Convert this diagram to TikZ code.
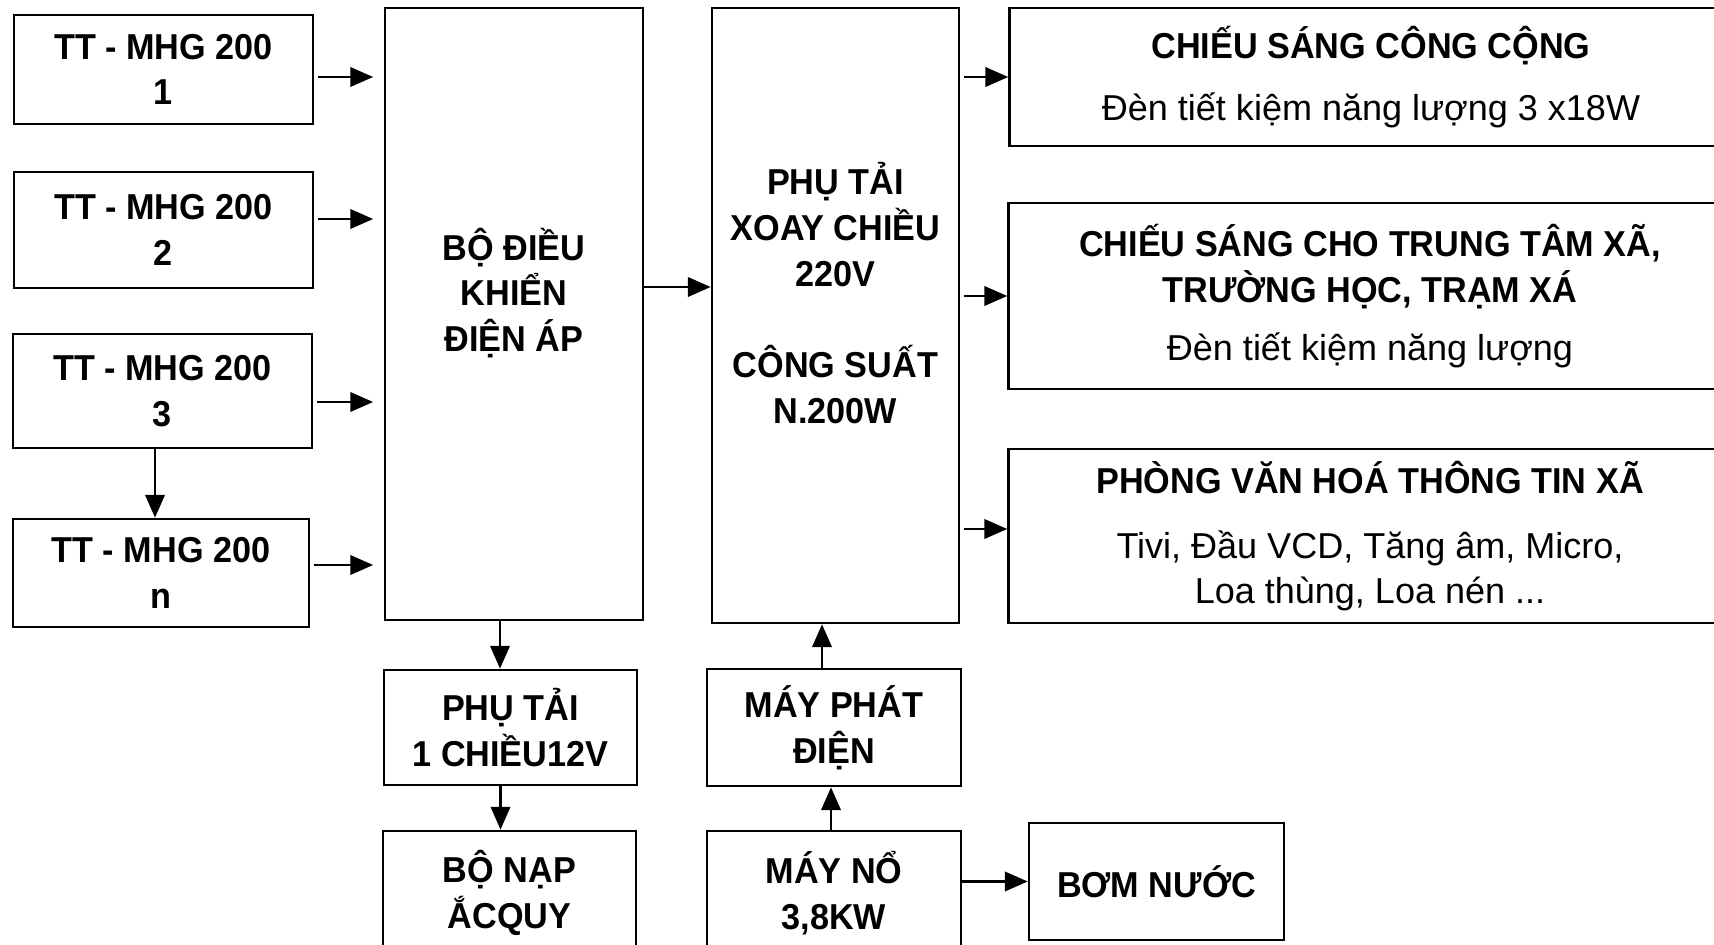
\documentclass[tikz,border=0pt]{standalone}
\usepackage{fontspec}
\setmainfont{Liberation Sans}[BoldFeatures={FakeStretch=0.95}]
\usetikzlibrary{arrows.meta, positioning}

\begin{document}
\begin{tikzpicture}[x=0.02cm, y=-0.02cm,
  blk/.style={draw=black, line width=1.5pt, align=center, inner sep=0pt,
              font=\fontsize{20.5}{26}\selectfont\bfseries},
  wide/.style={blk, minimum width=14.46cm},
  txt/.style={align=center, inner sep=0pt,
              font=\fontsize{20.5}{26}\selectfont\bfseries},
  arr/.style={-{Triangle[length=13pt, width=11pt]}, line width=1.5pt}
]
\useasboundingbox (0,0) rectangle (1714,945);
\clip (0,0) rectangle (1714,945);

% Sources
\node[blk, minimum width=5.98cm, minimum height=2.18cm] (tt1) at (163.5,69.5) {TT - MHG 200\\1};
\node[blk, minimum width=5.98cm, minimum height=2.32cm] (tt2) at (163.5,230) {TT - MHG 200\\2};
\node[blk, minimum width=5.98cm, minimum height=2.28cm] (tt3) at (162.5,391) {TT - MHG 200\\3};
\node[blk, minimum width=5.92cm, minimum height=2.16cm] (ttn) at (161,573) {TT - MHG 200\\n};

% Controller and AC load
\node[blk, minimum width=5.16cm, minimum height=12.24cm] (dk) at (514,314) {};
\node[txt] (dkt) at ([yshift=0.42cm]dk.center) {BỘ ĐIỀU\\KHIỂN\\ĐIỆN ÁP};
\node[blk, minimum width=4.94cm, minimum height=12.3cm] (xc) at (835.5,315.5) {};
\node[txt] (xct) at ([yshift=0.45cm]xc.center)
  {PHỤ TẢI\\XOAY CHIỀU\\220V\\[26pt]CÔNG SUẤT\\N.200W};

% Consumers
\node[wide, minimum height=2.76cm] (cs1) at (1371,77)
  {CHIẾU SÁNG CÔNG CỘNG\\[9pt]\mdseries Đèn tiết kiệm năng lượng 3 x18W};
\node[wide, minimum height=3.72cm] (cs2) at (1370,296)
  {CHIẾU SÁNG CHO TRUNG TÂM XÃ,\\TRƯỜNG HỌC, TRẠM XÁ\\[7pt]\mdseries Đèn tiết kiệm năng lượng};
\node[wide, minimum height=3.48cm] (pv) at (1370,536)
  {PHÒNG VĂN HOÁ THÔNG TIN XÃ\\[11pt]\mdseries Tivi, Đầu VCD, Tăng âm, Micro,\\\mdseries Loa thùng, Loa nén ...};

% Lower row
\node[blk, minimum width=5.06cm, minimum height=2.3cm] (pt1) at (510.5,727.5) {PHỤ TẢI\\1 CHIỀU12V};
\node[blk, minimum width=5.06cm, minimum height=2.48cm] (bn) at (509.5,893) {BỘ NẠP\\ẮCQUY};
\node[blk, minimum width=5.08cm, minimum height=2.34cm] (mp) at (834,727.5) {MÁY PHÁT\\ĐIỆN};
\node[blk, minimum width=5.08cm, minimum height=2.48cm] (mn) at (834,893) {MÁY NỔ\\3,8KW};
\node[blk, minimum width=5.1cm, minimum height=2.34cm] (bom) at (1156.5,881.5) {BƠM NƯỚC};

% Arrows into the controller
\draw[arr, shorten <=2pt, shorten >=6pt] ([yshift=-0.15cm]tt1.east) -- ([yshift=-0.15cm]tt1.east -| dk.west);
\draw[arr, shorten <=2pt, shorten >=6pt] ([yshift=0.22cm]tt2.east) -- ([yshift=0.22cm]tt2.east -| dk.west);
\draw[arr, shorten <=2pt, shorten >=6pt] ([yshift=-0.22cm]tt3.east) -- ([yshift=-0.22cm]tt3.east -| dk.west);
\draw[arr, shorten <=2pt, shorten >=6pt] ([yshift=0.16cm]ttn.east) -- ([yshift=0.16cm]ttn.east -| dk.west);
\draw[arr] ([xshift=-0.15cm]tt3.south) -- ([xshift=-0.15cm]tt3.south |- ttn.north);

% Controller to loads
\draw[arr] ([yshift=0.54cm]dk.east) -- ([yshift=0.54cm]dk.east -| xc.west);
\draw[arr, shorten <=2pt] (xc.east |- cs1.west) -- (cs1.west);
\draw[arr, shorten <=2pt] (xc.east |- cs2.west) -- (cs2.west);
\draw[arr, shorten <=2pt] ([yshift=0.14cm]xc.east |- pv.west) -- ([yshift=0.14cm]pv.west);
\draw[arr] ([xshift=-0.21cm]pt1.north |- dk.south) -- ([xshift=-0.21cm]pt1.north);
\draw[arr] ([xshift=-0.2cm]pt1.south) -- ([xshift=-0.2cm]pt1.south |- bn.north);

% Generator
\draw[arr] ([xshift=-0.24cm]mp.north) -- ([xshift=-0.24cm]mp.north |- xc.south);
\draw[arr] ([xshift=-0.06cm]mn.north) -- ([xshift=-0.06cm]mn.north |- mp.south);
\draw[arr] (mn.east |- bom.west) -- (bom.west);
\end{tikzpicture}
\end{document}
